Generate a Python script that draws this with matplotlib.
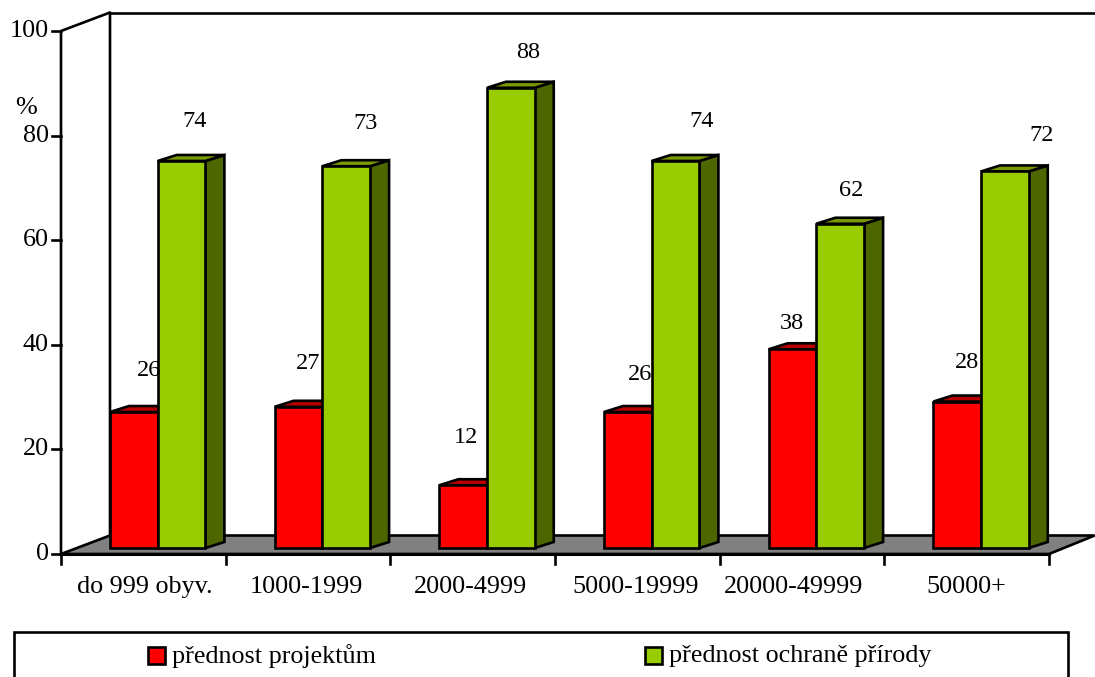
import matplotlib
matplotlib.use('agg')
import matplotlib.pyplot as plt
from matplotlib.patches import Polygon, Rectangle

plt.rcParams['font.family'] = ['Liberation Serif', 'DejaVu Sans']

categories = ['do 999 obyv.', '1000-1999', '2000-4999', '5000-19999', '20000-49999', '50000+']
projekty = [26, 27, 12, 26, 38, 28]
priroda = [74, 73, 88, 74, 62, 72]
y_ticks = [0, 20, 40, 60, 80, 100]
legend_labels = ['přednost projektům', 'přednost ochraně přírody']

# label shift from the top front corner middle of each bar, in pixels
projekty_shift = [(15, 42), (10, 43), (3, 48), (12, 38), (-1, 26), (10, 39)]
priroda_shift = [(13, 39), (19, 43), (17, 35), (26, 39), (11, 33), (37, 36)]
category_shift = [1, -2, -2, -2, -8, 0]

W, H = 1095, 677
X0, Y0 = 61, 554
CAT_PX = 164.67
PCT_PX = 5.23
DEPTH_X, DEPTH_Y = 49 / CAT_PX, 18.5 / PCT_PX
BAR_W = 47.7 / CAT_PX
BAR_DX, BAR_DY = 19 / CAT_PX, 6 / PCT_PX
FLOOR_Y = 6 / PCT_PX

RED, RED_TOP = '#ff0000', '#b80000'
GREEN, GREEN_TOP, GREEN_SIDE = '#99cc00', '#7a9900', '#4d6600'
LW = 1.9
FS_TICK = 18.8
FS_VALUE = 17.5

fig = plt.figure(figsize=(W / 100, H / 100), dpi=100)
ax = fig.add_axes([0, 0, 1, 1])
ax.set_xlim(-X0 / CAT_PX, (W - X0) / CAT_PX)
ax.set_ylim((Y0 - H) / PCT_PX, Y0 / PCT_PX)
ax.axis('off')

n = len(categories)

# floor and walls
ax.add_patch(Polygon([(0, 0), (DEPTH_X, DEPTH_Y), (n + DEPTH_X - 0.02, DEPTH_Y), (n, 0)],
                     facecolor='#808080', edgecolor='black', lw=LW, joinstyle='miter'))
ax.plot([0, 0, DEPTH_X, DEPTH_X], [0, 100, 100 + DEPTH_Y, DEPTH_Y], color='black', lw=LW)
ax.plot([DEPTH_X, n + DEPTH_X], [100 + DEPTH_Y, 100 + DEPTH_Y], color='black', lw=LW)
ax.plot([0, n], [0, 0], color='black', lw=LW + 0.3)


def bar3d(x, v, front, top, side):
    base = FLOOR_Y
    t = base + v
    ax.add_patch(Polygon([(x + BAR_W, base), (x + BAR_W + BAR_DX, base + BAR_DY),
                          (x + BAR_W + BAR_DX, t + BAR_DY), (x + BAR_W, t)],
                         facecolor=side, edgecolor='black', lw=LW))
    ax.add_patch(Polygon([(x, t), (x + BAR_DX, t + BAR_DY),
                          (x + BAR_W + BAR_DX, t + BAR_DY), (x + BAR_W, t)],
                         facecolor=top, edgecolor='black', lw=LW))
    ax.add_patch(Rectangle((x, base), BAR_W, v, facecolor=front, edgecolor='black', lw=LW))


for i in range(n):
    x = i + DEPTH_X
    bar3d(x, projekty[i], RED, RED_TOP, '#800000')
    bar3d(x + BAR_W, priroda[i], GREEN, GREEN_TOP, GREEN_SIDE)

# value labels after all bars so they sit on top
for i in range(n):
    x = i + DEPTH_X
    ax.annotate(str(projekty[i]), (x + BAR_W / 2, FLOOR_Y + projekty[i]),
                xytext=projekty_shift[i], textcoords='offset pixels',
                ha='center', va='center', fontsize=FS_VALUE, color='black')
    ax.annotate(str(priroda[i]), (x + BAR_W * 1.5, FLOOR_Y + priroda[i]),
                xytext=priroda_shift[i], textcoords='offset pixels',
                ha='center', va='center', fontsize=FS_VALUE, color='black')

# ticks
for v in y_ticks:
    ax.plot([-9 / CAT_PX, 0], [v, v], color='black', lw=LW)
    ax.annotate(str(v), (0, v), xytext=(-12, 0), textcoords='offset pixels',
                ha='right', va='center', fontsize=FS_TICK)
ax.annotate('%', (0, 85), xytext=(-35, 1), textcoords='offset pixels',
            ha='center', va='center', fontsize=FS_TICK)

for i in range(n + 1):
    ax.plot([i, i], [0, -10 / PCT_PX], color='black', lw=LW)
for i, c in enumerate(categories):
    ax.annotate(c, (i + 0.5, 0), xytext=(category_shift[i], -33), textcoords='offset pixels',
                ha='center', va='center', fontsize=FS_TICK)

# legend box, positions in pixels from the top left
px = matplotlib.transforms.Affine2D().scale(1, -1).translate(0, H)
fig.add_artist(Rectangle((13.5, 632), 1054, 46, transform=px, facecolor='white',
                         edgecolor='black', lw=LW, clip_on=False))
for sx, colour, label in zip([148, 645], [RED, GREEN], legend_labels):
    fig.add_artist(Rectangle((sx, 647), 17, 17, transform=px, facecolor=colour,
                             edgecolor='black', lw=LW))
    fig.text(sx + 24, 656, label, fontsize=FS_TICK, ha='left', va='center', transform=px)

fig.savefig('out.png', dpi=100, facecolor='white')
